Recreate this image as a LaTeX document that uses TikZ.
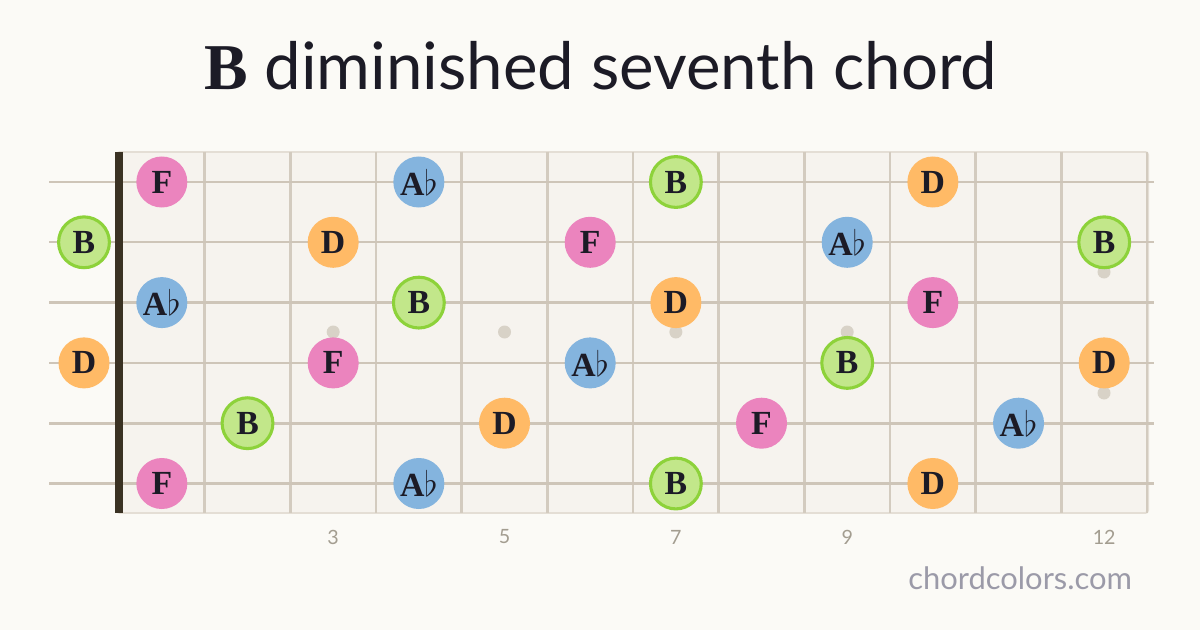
\documentclass[tikz,border=0pt]{standalone}
\usepackage{fontspec}
\setmainfont{Liberation Serif}
\setsansfont{Lato}
\definecolor{paper}{HTML}{FBFAF6}
\definecolor{board}{HTML}{F6F3EE}
\definecolor{boardedge}{HTML}{E4DED5}
\definecolor{fretc}{HTML}{D3CBBF}
\definecolor{stringc}{HTML}{CEC5B8}
\definecolor{nutc}{HTML}{3A3223}
\definecolor{inlay}{HTML}{D8D2C7}
\definecolor{ink}{HTML}{1C1B26}
\definecolor{numc}{HTML}{A39D90}
\definecolor{sitec}{HTML}{9B9AA8}
\definecolor{notef}{HTML}{EB84BE}
\definecolor{notea}{HTML}{84B4DE}
\definecolor{noteb}{HTML}{C2E78A}
\definecolor{notebedge}{HTML}{8DD23A}
\definecolor{noted}{HTML}{FFBA66}
\tikzset{
  note/.style={circle, inner sep=0pt, minimum size=1.275cm, text=ink,
    font=\fontsize{24}{25}\selectfont\bfseries},
  fnote/.style={note, fill=notef},
  anote/.style={note, fill=notea},
  bnote/.style={note, fill=noteb, draw=notebedge, line width=2.2pt, minimum size=1.27cm},
  dnote/.style={note, fill=noted},
  fretnum/.style={text=numc, font=\sffamily\fontsize{14}{15}\selectfont}
}
\begin{document}
\begin{tikzpicture}[x=0.025cm, y=-0.025cm]
\fill[paper] (0,0) rectangle (1200,630);
\useasboundingbox (0,0) rectangle (1200,630);
% title
\node[text=ink] (title) at (601,66)
  {\fontsize{46.5}{50}\selectfont{\bfseries B} \sffamily diminished seventh chord};
% board
\draw[fill=board, draw=boardedge, line width=1.4pt, rounded corners=2pt]
  (117,152) rectangle (1148,513);
\foreach \f in {1,...,12}
  \draw[fretc, line width=2pt] ({119+\f*85.67},152) -- ({119+\f*85.67},513);
% inlays
\foreach \f in {3,5,7,9}
  \fill[inlay] ({119+(\f-0.5)*85.67},332) circle (6.5);
\fill[inlay] (1104,272) circle (6.5);
\fill[inlay] (1104,393) circle (6.5);
% strings
\foreach \s/\w in {1/1.4,2/1.5,3/1.7,4/1.9,5/2.1,6/2.4}
  \draw[stringc, line width=\w pt] (49,{182+(\s-1)*60.3}) -- (1154,{182+(\s-1)*60.3});
\draw[nutc, line width=5.7pt] (119,152) -- (119,513);
% notes
\foreach \s/\f/\t/\st in {
  1/1/F/fnote, 1/4/A$\flat$/anote, 1/7/B/bnote, 1/10/D/dnote,
  2/0/B/bnote, 2/3/D/dnote, 2/6/F/fnote, 2/9/A$\flat$/anote, 2/12/B/bnote,
  3/1/A$\flat$/anote, 3/4/B/bnote, 3/7/D/dnote, 3/10/F/fnote,
  4/0/D/dnote, 4/3/F/fnote, 4/6/A$\flat$/anote, 4/9/B/bnote, 4/12/D/dnote,
  5/2/B/bnote, 5/5/D/dnote, 5/8/F/fnote, 5/11/A$\flat$/anote,
  6/1/F/fnote, 6/4/A$\flat$/anote, 6/7/B/bnote, 6/10/D/dnote}
{
  \pgfmathsetmacro\nx{\f==0 ? 84 : 119+(\f-0.5)*85.67}
  \node[\st] (n\s-\f) at (\nx,{182+(\s-1)*60.3}) {\t};
}
% fret numbers
\foreach \f in {3,5,7,9,12}
  \node[fretnum] (fn\f) at ({119+(\f-0.5)*85.67},537) {\f};
\node[text=sitec, font=\sffamily\fontsize{22}{24}\selectfont, anchor=east]
  (site) at (1137,578) {chordcolors.com};
\end{tikzpicture}
\end{document}
